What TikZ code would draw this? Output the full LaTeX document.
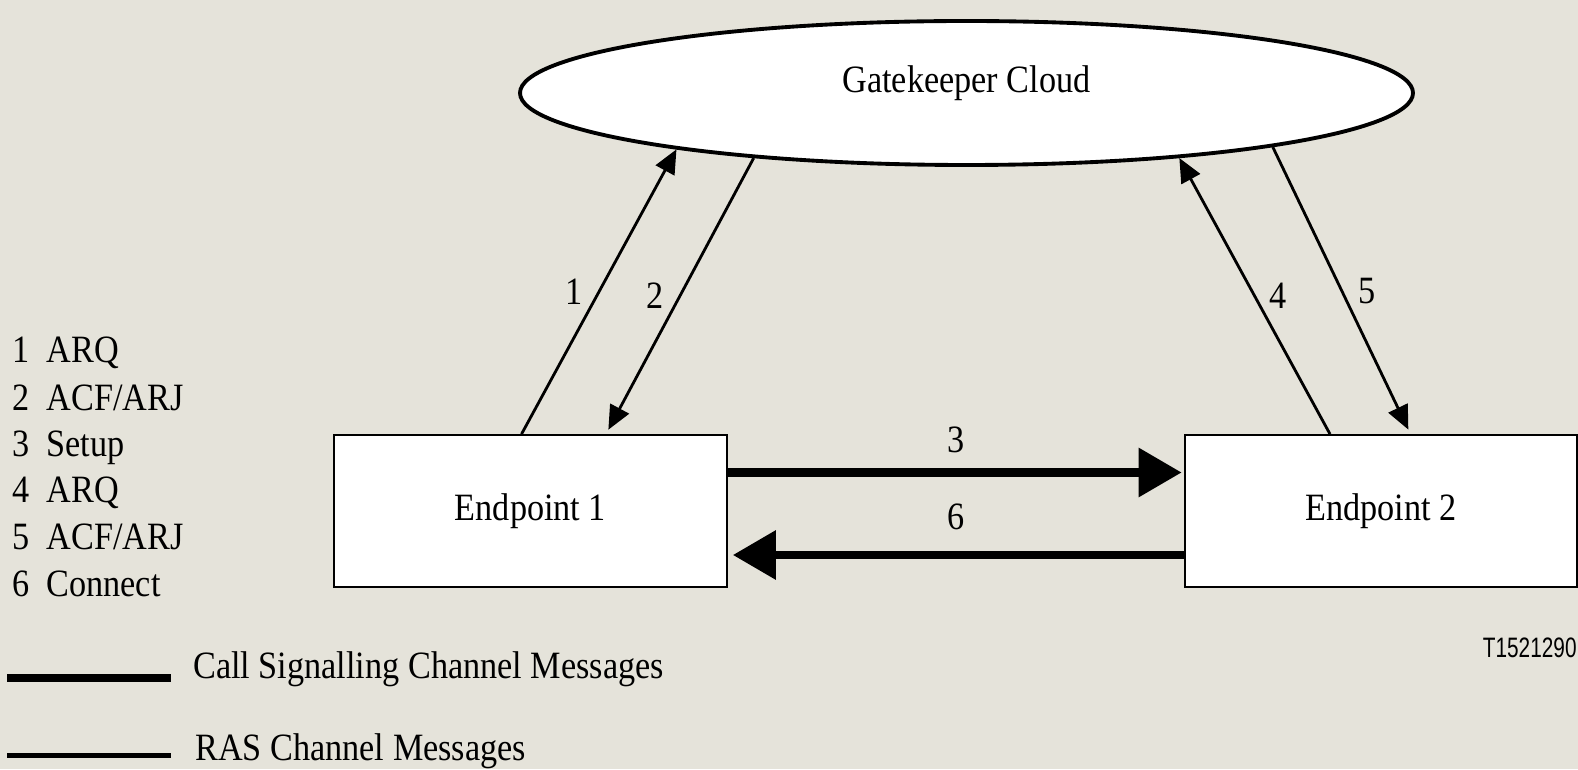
\documentclass[tikz,border=0pt]{standalone}
\usepackage{fontspec}
\setmainfont{Liberation Serif}[FakeStretch=0.885]
\newfontfamily\idfont{Liberation Sans}[FakeStretch=0.74]
\usetikzlibrary{arrows.meta,shapes.geometric}
\definecolor{paper}{RGB}{229,227,218}

\begin{document}
\begin{tikzpicture}[font=\fontsize{22}{26}\selectfont]
        \useasboundingbox (0,0) rectangle (31.56,15.38);
        \fill[paper] (0,0) rectangle (31.56,15.38);

        \begin{scope}[every node/.style={fill=white,draw=black}]
            \node (gk) [ellipse,line width=2.2pt,minimum width=17.86cm,minimum height=2.88cm,
                        text height=0.6cm,text depth=0.6cm] at (19.33,13.52) {Gatekeeper Cloud};
            \node (ep1) [rectangle,line width=1pt,minimum width=7.86cm,minimum height=3.04cm] at (10.61,5.16) {Endpoint 1};
            \node (ep2) [rectangle,line width=1pt,minimum width=7.84cm,minimum height=3.04cm] at (27.62,5.16) {Endpoint 2};
        \end{scope}

        \begin{scope}[>={Triangle[length=0.48cm,width=0.42cm]},
                      every node/.style={inner sep=0pt},
                      every edge/.style={draw=black,line width=1.6pt}]
            \path [->] ([xshift=-0.18cm]ep1.north) edge node[left=0.3cm] {1} (gk.191);
            \path [->,shorten >=0.1cm] (gk.197) edge node[left=0.3cm] {2} ([xshift=1.51cm]ep1.north);
            \path [->] ([xshift=-1.02cm]ep2.north) edge node[right=0.27cm] {4} (gk.343);
            \path [->,shorten >=0.1cm] (gk.350) edge node[right=0.3cm] {5} ([xshift=0.59cm]ep2.north);
        \end{scope}

        \begin{scope}[>={Triangle[length=0.86cm,width=0.95cm]},
                      every node/.style={inner sep=0pt},
                      every edge/.style={draw=black,line width=4.6pt}]
            \path [->,shorten >=0.05cm] ([yshift=0.77cm]ep1.east) edge node[above=0.31cm] {3} ([yshift=0.77cm]ep2.west);
            \path [->,shorten >=0.1cm] ([yshift=-0.88cm]ep2.west) edge node[above=0.42cm] {6} ([yshift=-0.88cm]ep1.east);
        \end{scope}

        \begin{scope}[every node/.style={anchor=base west,inner sep=0pt}]
            \node (k1) at (0.24,8.13) {1\ \ ARQ};
            \node (k2) at (0.24,7.18) {2\ \ ACF/ARJ};
            \node (k3) at (0.24,6.26) {3\ \ Setup};
            \node (k4) at (0.24,5.33) {4\ \ ARQ};
            \node (k5) at (0.24,4.40) {5\ \ ACF/ARJ};
            \node (k6) at (0.24,3.46) {6\ \ Connect};

            \coordinate (cs1) at (0.14,1.82);
            \coordinate (cs2) at (3.42,1.82);
            \coordinate (ras1) at (0.14,0.27);
            \coordinate (ras2) at (3.42,0.27);
            \draw [line width=4.8pt] (cs1) -- (cs2);
            \draw [line width=2.8pt] (ras1) -- (ras2);
            \node (cstext) at (3.86,1.82) {Call Signalling Channel Messages};
            \node (rastext) at (3.90,0.18) {RAS Channel Messages};

            \node (figid) [font=\idfont\fontsize{16}{19}\selectfont] at (29.65,2.24) {T1521290};
        \end{scope}
\end{tikzpicture}
\end{document}
